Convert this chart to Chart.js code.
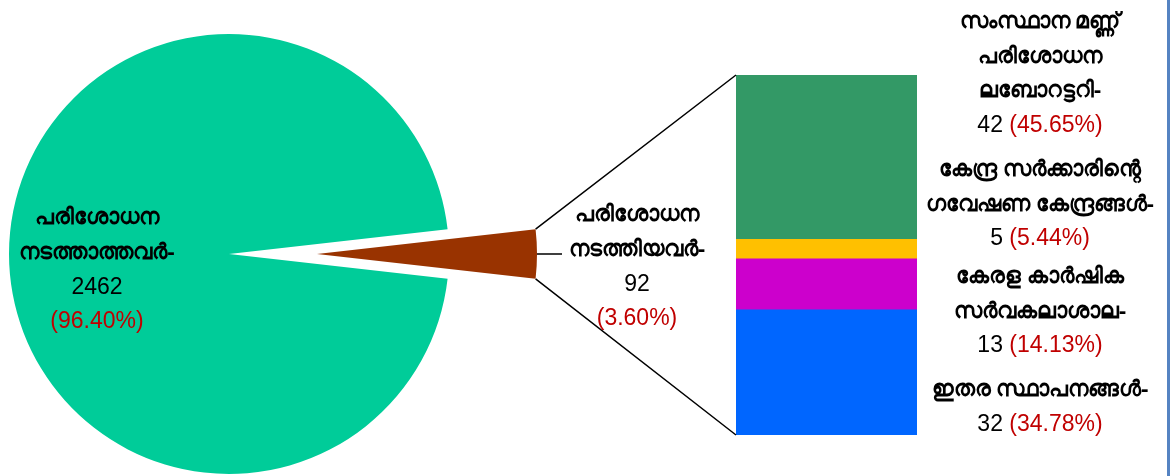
<!DOCTYPE html>
<html>
<head>
<meta charset="utf-8">
<script src="https://cdn.jsdelivr.net/npm/chart.js@4.4.1/dist/chart.umd.min.js"></script>
<style>
  body { margin: 0; background: #fff; width: 1170px; height: 476px; overflow: hidden; position: relative; }
  canvas { position: absolute; left: 0; top: 0; }
  #edge { position: absolute; left: 1167px; top: 0; width: 3px; height: 476px; background: #5583C2; }
</style>
</head>
<body>
<canvas id="pieChart" width="600" height="508"></canvas>
<canvas id="barChart" width="1170" height="476"></canvas>
<div id="edge"></div>
<script>
// pie: all tested vs not tested
const pieLabels = [['പരിശോധന', 'നടത്താത്തവർ-'], ['പരിശോധന', 'നടത്തിയവർ-']];
const pieValues = [2462, 92];
const piePercents = ['96.40%', '3.60%'];
const pieColors = ['#00CC99', '#993300'];

// bar: breakdown of the 92, bottom to top
const barLabels = [
  ['ഇതര സ്ഥാപനങ്ങൾ-'],
  ['കേരള കാർഷിക', 'സർവകലാശാല-'],
  ['കേന്ദ്ര സർക്കാരിന്റെ', 'ഗവേഷണ കേന്ദ്രങ്ങൾ-'],
  ['സംസ്ഥാന മണ്ണ്', 'പരിശോധന', 'ലബോറട്ടറി-']
];
const barValues = [32, 13, 5, 42];
const barPercents = ['34.78%', '14.13%', '5.44%', '45.65%'];
const barColors = ['#0066FF', '#CC00CC', '#FFC000', '#339966'];

const pieTotal = pieValues.reduce((a, b) => a + b, 0);
const barTotal = barValues.reduce((a, b) => a + b, 0);

const malFont = 'bold 22px "Noto Sans", "DejaVu Sans", sans-serif';
const numFont = '23px "Liberation Sans", Arial, sans-serif';
const red = '#C00000';
const explode = 88;

// pull the small slice out to the right
const explodePlugin = {
  id: 'explode',
  afterDatasetsUpdate(chart) {
    const arc = chart.getDatasetMeta(0).data[1];
    const mid = (arc.startAngle + arc.endAngle) / 2;
    arc.x += Math.cos(mid) * explode;
    arc.y += Math.sin(mid) * explode;
  }
};

const pieChart = new Chart(document.getElementById('pieChart'), {
  type: 'pie',
  data: {
    labels: pieLabels.map(l => l.join(' ')),
    datasets: [{
      data: pieValues,
      backgroundColor: pieColors,
      borderWidth: 0,
      radius: 220
    }]
  },
  options: {
    responsive: false,
    animation: false,
    events: [],
    rotation: 90 - 360 * (pieValues[0] + pieValues[1] / 2) / pieTotal,
    layout: { padding: { right: 142 } },
    plugins: { legend: { display: false }, tooltip: { enabled: false } }
  },
  plugins: [explodePlugin]
});

function centerLine(ctx, parts, cx, y) {
  // parts: [text, font, color]
  let w = 0;
  parts.forEach(p => { ctx.font = p[1]; w += ctx.measureText(p[0]).width; });
  let x = cx - w / 2;
  ctx.textAlign = 'left';
  parts.forEach(p => {
    ctx.font = p[1];
    ctx.fillStyle = p[2];
    ctx.fillText(p[0], x, y);
    x += ctx.measureText(p[0]).width;
  });
}

const labelPlugin = {
  id: 'labels',
  afterDraw(chart) {
    const ctx = chart.ctx;
    ctx.save();

    // connector lines from the small slice to the bar
    const arc = pieChart.getDatasetMeta(0).data[1];
    const R = arc.outerRadius;
    const topBar = chart.getDatasetMeta(barValues.length - 1).data[0];
    const botBar = chart.getDatasetMeta(0).data[0];
    const left = topBar.x - topBar.width / 2;
    ctx.strokeStyle = '#000';
    ctx.lineWidth = 1.5;
    ctx.beginPath();
    ctx.moveTo(arc.x + R * Math.cos(arc.startAngle), arc.y + R * Math.sin(arc.startAngle));
    ctx.lineTo(left, topBar.y);
    ctx.moveTo(arc.x + R * Math.cos(arc.endAngle), arc.y + R * Math.sin(arc.endAngle));
    ctx.lineTo(left, botBar.base);
    ctx.moveTo(arc.x + R, arc.y);
    ctx.lineTo(arc.x + R + 25, arc.y);
    ctx.stroke();

    ctx.textBaseline = 'middle';

    // pie labels
    const pieLabelPos = [[97, 218], [637, 215]];
    pieLabels.forEach((lines, i) => {
      const [cx, y0] = pieLabelPos[i];
      let y = y0;
      lines.forEach(t => { centerLine(ctx, [[t, malFont, '#000']], cx, y); y += 35; });
      centerLine(ctx, [[String(pieValues[i]), numFont, '#000']], cx, y); y += 34;
      centerLine(ctx, [['(' + piePercents[i] + ')', numFont, red]], cx, y);
    });

    // bar labels on the right
    const barLabelY = [390, 277, 170, 22];
    barLabels.forEach((lines, i) => {
      let y = barLabelY[i];
      lines.forEach(t => { centerLine(ctx, [[t, malFont, '#000']], 1040, y); y += 34.5; });
      centerLine(ctx, [[barValues[i] + ' ', numFont, '#000'], ['(' + barPercents[i] + ')', numFont, red]], 1040, y);
    });

    ctx.restore();
  }
};

new Chart(document.getElementById('barChart'), {
  type: 'bar',
  data: {
    labels: [''],
    datasets: barValues.map((v, i) => ({
      label: barLabels[i].join(' '),
      data: [v],
      backgroundColor: barColors[i],
      borderWidth: 0,
      barPercentage: 1,
      categoryPercentage: 1
    }))
  },
  options: {
    responsive: false,
    animation: false,
    events: [],
    layout: { padding: { left: 736, right: 253, top: 75, bottom: 41 } },
    scales: {
      x: { stacked: true, display: false },
      y: { stacked: true, display: false, min: 0, max: barTotal }
    },
    plugins: { legend: { display: false }, tooltip: { enabled: false } }
  },
  plugins: [labelPlugin]
});
</script>
</body>
</html>
